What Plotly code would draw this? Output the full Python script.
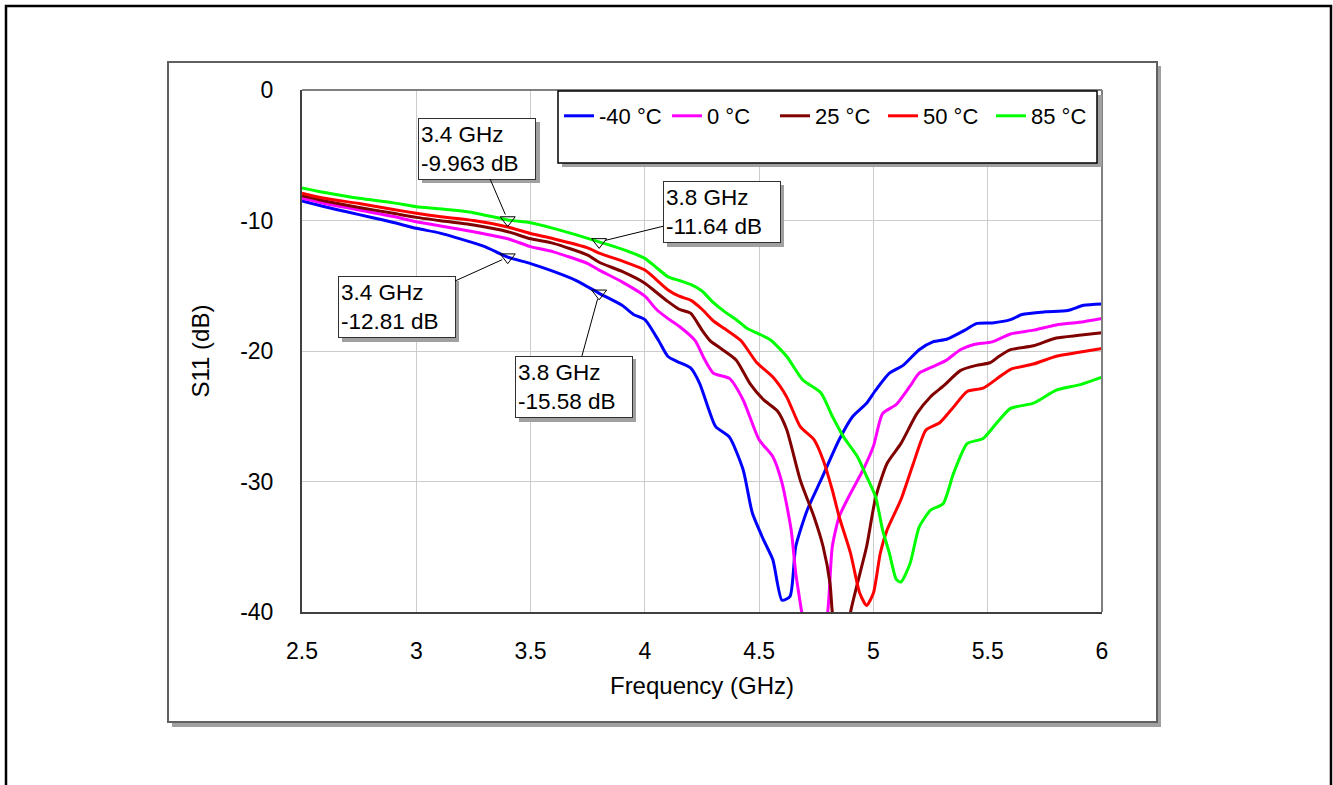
import plotly.graph_objects as go

# ---------------- data ----------------
f_m40 = [2.5, 2.6, 2.7, 2.8, 2.9, 3.0, 3.1, 3.2, 3.3, 3.4, 3.5, 3.6, 3.7, 3.8, 3.9, 3.95, 4.0,
         4.06, 4.1, 4.14, 4.2, 4.24, 4.28, 4.31, 4.37, 4.43, 4.47, 4.52, 4.56, 4.60, 4.635,
         4.66, 4.71, 4.77, 4.85, 4.91, 4.97, 5.01, 5.07, 5.13, 5.2, 5.26, 5.32, 5.4, 5.45,
         5.52, 5.6, 5.65, 5.75, 5.85, 5.92, 6.0]
s_m40 = [-8.5, -8.95, -9.35, -9.75, -10.15, -10.6, -10.95, -11.45, -12.0, -12.81, -13.3, -13.9,
         -14.6, -15.58, -16.5, -17.2, -17.6, -19.2, -20.4, -20.8, -21.3, -22.5, -24.5, -25.8,
         -26.6, -29.1, -32.4, -34.5, -36.0, -39.1, -38.8, -35.0, -32.2, -29.9, -26.8, -25.0,
         -24.0, -23.0, -21.7, -21.1, -19.9, -19.3, -19.1, -18.4, -17.9, -17.85, -17.6, -17.2,
         -17.0, -16.9, -16.5, -16.4]

f_0 = [2.5, 2.6, 2.75, 2.9, 3.0, 3.1, 3.25, 3.4, 3.5, 3.6, 3.75, 3.8, 3.9, 4.0, 4.05, 4.1, 4.15,
       4.22, 4.26, 4.30, 4.37, 4.43, 4.50, 4.56, 4.60, 4.64, 4.66, 4.686, 4.74, 4.80, 4.82,
       4.85, 4.90, 4.955, 5.0, 5.04, 5.10, 5.16, 5.2, 5.26, 5.32, 5.38, 5.44, 5.52, 5.6, 5.7,
       5.8, 5.9, 6.0]
s_0 = [-8.3, -8.7, -9.2, -9.7, -10.1, -10.4, -10.86, -11.4, -12.0, -12.4, -13.3, -13.8, -14.7,
       -15.8, -16.8, -17.5, -18.1, -19.2, -20.6, -21.7, -22.1, -23.75, -26.8, -28.1, -30.1,
       -33.7, -37.0, -40.0, -46.0, -40.0, -35.0, -32.7, -30.9, -29.1, -27.3, -24.8, -24.1,
       -22.7, -21.7, -21.2, -20.7, -19.9, -19.5, -19.3, -18.7, -18.4, -18.0, -17.8, -17.5]

f_25 = [2.5, 2.6, 2.75, 2.9, 3.0, 3.1, 3.25, 3.4, 3.5, 3.6, 3.75, 3.8, 3.9, 4.0, 4.05, 4.1,
        4.15, 4.2, 4.25, 4.285, 4.34, 4.40, 4.46, 4.52, 4.58, 4.62, 4.68, 4.74, 4.78, 4.81,
        4.82, 4.86, 4.90, 4.93, 4.97, 5.01, 5.06, 5.12, 5.19, 5.25, 5.305, 5.38, 5.45, 5.51,
        5.55, 5.6, 5.7, 5.8, 5.9, 6.0]
s_25 = [-8.1, -8.5, -9.0, -9.45, -9.76, -10.0, -10.35, -10.86, -11.4, -11.75, -12.65, -13.2,
        -13.9, -14.8, -15.5, -16.2, -16.8, -17.1, -18.4, -19.2, -19.9, -20.7, -22.5, -23.75,
        -24.6, -26.0, -29.9, -32.7, -35.0, -37.8, -40.0, -45.0, -40.0, -37.8, -35.0, -31.2,
        -28.6, -27.1, -24.8, -23.5, -22.7, -21.5, -21.1, -20.9, -20.4, -19.9, -19.6, -19.0,
        -18.8, -18.6]

f_50 = [2.5, 2.6, 2.75, 2.9, 3.0, 3.1, 3.25, 3.4, 3.5, 3.6, 3.75, 3.8, 3.9, 4.0, 4.1, 4.15,
        4.2, 4.25, 4.3, 4.35, 4.42, 4.49, 4.56, 4.62, 4.68, 4.74, 4.78, 4.82, 4.85, 4.90, 4.94,
        4.97, 5.0, 5.03, 5.06, 5.12, 5.175, 5.23, 5.29, 5.35, 5.41, 5.48, 5.55, 5.6, 5.7, 5.8,
        5.9, 6.0]
s_50 = [-7.9, -8.3, -8.7, -9.15, -9.45, -9.7, -10.0, -10.5, -11.0, -11.4, -12.1, -12.5, -13.1,
        -13.8, -15.3, -15.8, -16.1, -16.8, -17.7, -18.3, -19.2, -20.9, -22.0, -23.5, -25.8,
        -26.8, -28.35, -30.65, -32.7, -35.5, -38.55, -39.5, -38.55, -35.5, -33.7, -31.4,
        -28.6, -26.05, -25.5, -24.3, -23.1, -22.85, -22.0, -21.4, -21.0, -20.4, -20.1, -19.8]

f_85 = [2.5, 2.6, 2.75, 2.9, 3.0, 3.1, 3.25, 3.4, 3.5, 3.6, 3.7, 3.8, 3.9, 4.0, 4.05, 4.1, 4.15,
        4.2, 4.25, 4.3, 4.35, 4.4, 4.45, 4.5, 4.55, 4.62, 4.69, 4.77, 4.82, 4.87, 4.93, 4.97,
        5.01, 5.04, 5.07, 5.10, 5.12, 5.16, 5.20, 5.25, 5.305, 5.35, 5.41, 5.48, 5.54, 5.6,
        5.7, 5.8, 5.9, 6.0]
s_85 = [-7.5, -7.85, -8.3, -8.65, -8.94, -9.1, -9.4, -9.963, -10.17, -10.6, -11.1, -11.64,
        -12.2, -12.9, -13.6, -14.3, -14.6, -14.9, -15.4, -16.3, -17.0, -17.6, -18.3, -18.7,
        -19.16, -20.4, -22.2, -23.2, -25.0, -26.6, -28.1, -29.6, -31.2, -33.7, -35.5, -37.5,
        -37.7, -36.3, -33.5, -32.2, -31.7, -29.4, -27.1, -26.7, -25.5, -24.4, -24.0, -23.0,
        -22.6, -22.0]

series_names = ["-40 °C", "0 °C", "25 °C", "50 °C", "85 °C"]
series_colors = ["#0000ff", "#ff00ff", "#800000", "#ff0000", "#00ff00"]
series_f = [f_m40, f_0, f_25, f_50, f_85]
series_s = [s_m40, s_0, s_25, s_50, s_85]

marker_f = [3.4, 3.8, 3.4, 3.8]
marker_s = [-9.963, -11.64, -12.81, -15.58]
marker_text = ["3.4 GHz<br>-9.963 dB", "3.8 GHz<br>-11.64 dB",
               "3.4 GHz<br>-12.81 dB", "3.8 GHz<br>-15.58 dB"]
# label box offsets from marker (pixels)
marker_ax = [-30.7, 122.4, -111.2, -25.6]
marker_ay = [-71.5, -29.9, 50.3, 93.2]

x_ticks = [2.5, 3, 3.5, 4, 4.5, 5, 5.5, 6]
x_labels = ["2.5", "3", "3.5", "4", "4.5", "5", "5.5", "6"]
y_ticks = [0, -10, -20, -30, -40]
y_labels = ["0", "-10", "-20", "-30", "-40"]

# ---------------- layout helpers ----------------
W, H = 1333, 785
L, R, T, B = 302, 1102, 90, 612
FONT = "Arial, Liberation Sans, sans-serif"


def px(x):
    return (x - L) / (R - L)


def py(y):
    return (B - y) / (B - T)


fig = go.Figure()
for name, f, s, c in zip(series_names, series_f, series_s, series_colors):
    fig.add_trace(go.Scatter(x=f, y=s, mode="lines", name=name,
                             line=dict(color=c, width=3, shape="spline", smoothing=0.6)))

fig.add_trace(go.Scatter(x=marker_f, y=marker_s, mode="markers", showlegend=False,
                         hoverinfo="skip",
                         marker=dict(symbol="triangle-down-open", size=13, color="black",
                                     line=dict(width=1, color="black"))))

shapes = []
# outer black frame
shapes.append(dict(type="rect", xref="paper", yref="paper", x0=px(6), x1=px(1331),
                   y0=py(6), y1=py(800), line=dict(color="black", width=2.5),
                   fillcolor="rgba(0,0,0,0)", layer="below"))
# chart box shadow + box
shapes.append(dict(type="rect", xref="paper", yref="paper", x0=px(172), x1=px(1161),
                   y0=py(66), y1=py(727), line=dict(width=0), fillcolor="#a0a0a0", layer="below"))
shapes.append(dict(type="rect", xref="paper", yref="paper", x0=px(168), x1=px(1157),
                   y0=py(62), y1=py(722), line=dict(color="#606060", width=2),
                   fillcolor="white", layer="below"))
# plot top / right border
shapes.append(dict(type="line", xref="paper", yref="paper", x0=0, x1=1, y0=1, y1=1,
                   line=dict(color="#808080", width=2), layer="above"))
shapes.append(dict(type="line", xref="paper", yref="paper", x0=1, x1=1, y0=0, y1=1,
                   line=dict(color="#808080", width=2), layer="above"))
# legend box shadow + box
shapes.append(dict(type="rect", xref="paper", yref="paper", x0=px(562), x1=px(1102),
                   y0=py(95), y1=py(167), line=dict(width=0), fillcolor="#a0a0a0", layer="above"))
shapes.append(dict(type="rect", xref="paper", yref="paper", x0=px(558), x1=px(1097),
                   y0=py(91), y1=py(163), line=dict(color="black", width=1.5),
                   fillcolor="white", layer="above"))
# marker label box shadows
for (x0, y0, x1, y1) in [(418, 118, 536, 179), (663, 181, 780, 243),
                         (338, 277, 455, 338), (515, 355, 632, 418)]:
    shapes.append(dict(type="rect", xref="paper", yref="paper", x0=px(x0 + 4), x1=px(x1 + 4),
                       y0=py(y0 + 4), y1=py(y1 + 4), line=dict(width=0),
                       fillcolor="#a0a0a0", layer="above"))

annotations = []
for f, s, t, ax, ay in zip(marker_f, marker_s, marker_text, marker_ax, marker_ay):
    annotations.append(dict(x=f, y=s, xref="x", yref="y", text=t, showarrow=True,
                            arrowhead=0, arrowwidth=1, arrowcolor="black", ax=ax, ay=ay,
                            axref="pixel", ayref="pixel", standoff=6, bgcolor="white",
                            bordercolor="#303030", borderwidth=1, borderpad=2,
                            width=112, height=56, align="left",
                            font=dict(family=FONT, size=22.5, color="black")))

fig.update_layout(
    width=W, height=H, autosize=False,
    margin=dict(l=L, r=W - R, t=T, b=H - B, pad=0),
    paper_bgcolor="white", plot_bgcolor="rgba(0,0,0,0)",
    font=dict(family=FONT, color="black"),
    showlegend=True,
    legend=dict(orientation="h", x=px(559), xanchor="left", y=py(116), yanchor="middle",
                bgcolor="rgba(0,0,0,0)", borderwidth=0, font=dict(family=FONT, size=22),
                entrywidth=63, entrywidthmode="pixels", itemwidth=30),
    shapes=shapes,
    annotations=annotations,
    xaxis=dict(range=[2.5, 6], tickvals=x_ticks, ticktext=x_labels, showgrid=True,
               gridcolor="#cccccc", gridwidth=1, zeroline=False, showline=True,
               linecolor="#404040", linewidth=2, ticks="", ticklabelstandoff=17,
               tickfont=dict(family=FONT, size=23, color="black"),
               title=dict(text="Frequency (GHz)", font=dict(family=FONT, size=24, color="black"),
                          standoff=15)),
    yaxis=dict(range=[-40, 0], tickvals=y_ticks, ticktext=y_labels, showgrid=True,
               gridcolor="#cccccc", gridwidth=1, zeroline=False, showline=True,
               linecolor="#404040", linewidth=2, ticks="", ticklabelstandoff=22,
               tickfont=dict(family=FONT, size=23, color="black"),
               title=dict(text="S11 (dB)", font=dict(family=FONT, size=24, color="black"),
                          standoff=24)),
)

fig.write_html("out.html")
